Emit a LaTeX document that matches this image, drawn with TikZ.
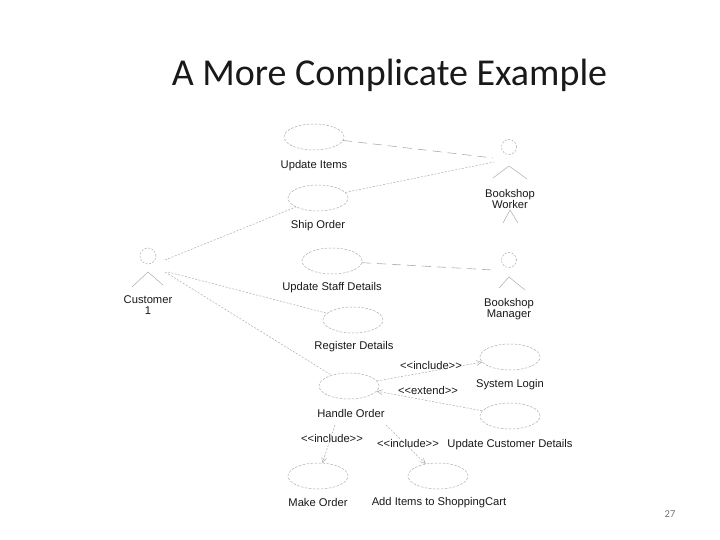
\documentclass[tikz,border=0pt]{standalone}
\usepackage{fontspec}
\setmainfont{Liberation Sans}
\newfontfamily\titlefont{Carlito}
\usetikzlibrary{arrows.meta,shapes.geometric}
\definecolor{linegray}{gray}{0.68}
\tikzset{
  usecase/.style={ellipse,draw=linegray,dash pattern=on 2.5pt off 1.5pt,line width=0.5pt,minimum width=60pt,minimum height=26pt,inner sep=0pt},
  lbl/.style={font=\fontsize{11.2}{11}\selectfont,align=center,inner sep=0pt,text=black!90,yshift=-1.5pt},
  stereo/.style={font=\fontsize{11.2}{11}\selectfont,inner sep=0pt,text=black!90},
  assoc/.style={draw=linegray,line width=0.5pt,dash pattern=on 2pt off 1.5pt},
  longdash/.style={draw=linegray,line width=0.6pt,dash pattern=on 9pt off 6pt},
  dep/.style={assoc,-{Straight Barb[length=5pt,width=5pt]}},
  limb/.style={draw=linegray,line width=0.5pt},
  headc/.style={circle,draw=linegray,dash pattern=on 2pt off 1.5pt,line width=0.5pt,inner sep=0pt}
}
\begin{document}
\begin{tikzpicture}[x=1pt,y=-1pt]
\useasboundingbox (0,0) rectangle (720,540);
\fill[white] (0,0) rectangle (720,540);
\node[font=\titlefont\fontsize{38}{42}\selectfont,inner sep=0pt,text=black!90] (title) at (389.5,75) {A More Complicate Example};
\node[font=\titlefont\fontsize{10.5}{12}\selectfont,inner sep=0pt,text=black!55] (page) at (670,514) {27};
% use cases
\node[usecase] (items) at (314,137) {};
\node[usecase] (ship) at (318,198) {};
\node[usecase] (staff) at (332,261) {};
\node[usecase] (register) at (353,320) {};
\node[usecase] (handle) at (349,386) {};
\node[usecase] (login) at (510,357) {};
\node[usecase] (custdet) at (510,416) {};
\node[usecase] (make) at (318,476) {};
\node[usecase] (add) at (438,476) {};
% use case labels
\node[lbl] (l1) at (314,164) {Update Items};
\node[lbl] (l2) at (318,224) {Ship Order};
\node[lbl] (l3) at (332,286) {Update Staff Details};
\node[lbl] (l4) at (354,345) {Register Details};
\node[lbl] (l5) at (351,412) {Handle Order};
\node[lbl] (l6) at (510,383) {System Login};
\node[lbl] (l7) at (510,443) {Update Customer Details};
\node[lbl] (l8) at (318,501) {Make Order};
\node[lbl] (l9) at (439,501) {Add Items to ShoppingCart};
% actors
\node[headc,minimum size=15pt] (wh) at (509,147) {};
\node[headc,minimum size=15pt] (mh) at (509,260) {};
\node[headc,minimum size=16pt] (ch) at (148,256) {};
\node[lbl] (wl) at (510,197) {Bookshop\\Worker};
\node[lbl] (ml) at (509,308) {Bookshop\\Manager};
\node[lbl] (cl) at (148,304) {Customer\\1};
\coordinate (wn) at (509,166);
\coordinate (wa) at (493,178);
\coordinate (wb) at (527,179);
\coordinate (wf) at (510,210);
\coordinate (wc) at (503,223);
\coordinate (wd) at (518,223);
\coordinate (mn) at (509,277);
\coordinate (ma) at (499,288);
\coordinate (mb) at (525,290);
\coordinate (cn) at (148,272);
\coordinate (ca) at (132,287);
\coordinate (cb) at (163,285);
\draw[limb] (wa) -- (wn) -- (wb);
\draw[limb] (wc) -- (wf) -- (wd);
\draw[limb] (ma) -- (mn) -- (mb);
\draw[limb] (ca) -- (cn) -- (cb);
% free connector ends at the actors
\coordinate (w1) at (493,158);
\coordinate (w2) at (494,162);
\coordinate (m1) at (493,270);
\coordinate (c1) at (165,260);
\coordinate (c2) at (168,272);
\coordinate (c3) at (165,272);
% associations
\draw[longdash] (items) -- (w1);
\draw[assoc] (ship) -- (w2);
\draw[longdash] (staff) -- (m1);
\draw[assoc] (c1) -- (ship);
\draw[assoc] (c2) -- (register);
\draw[assoc] (c3) -- (handle);
% dependencies
\coordinate (h1) at (335,425);
\coordinate (h2) at (386,425);
\draw[dep] (handle) -- (login);
\draw[dep] (custdet) -- (handle);
\draw[dep] (h1) -- (make);
\draw[dep] (h2) -- (add);
\node[stereo,fill=white] (s1) at (431,365) {<{}<include>{}>};
\node[stereo,fill=white] (s2) at (428,390) {<{}<extend>{}>};
\node[stereo] (s3) at (332,438) {<{}<include>{}>};
\node[stereo] (s4) at (408,443) {<{}<include>{}>};
\end{tikzpicture}
\end{document}
